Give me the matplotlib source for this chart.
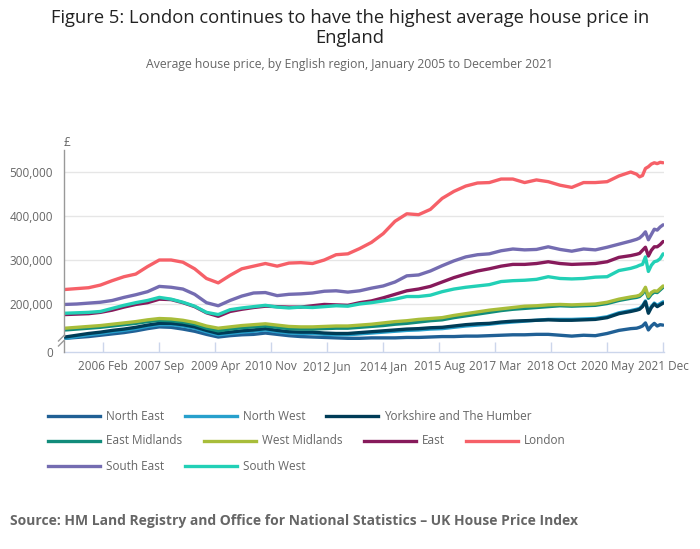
import calendar

import matplotlib
matplotlib.use('Agg')
import matplotlib.pyplot as plt
from matplotlib.lines import Line2D

plt.rcParams['font.family'] = ['Open Sans', 'DejaVu Sans']

# --- DATA (average price, £ thousands; month offset from Jan 2005) ---
months = list(range(0, 193, 4)) + list(range(194, 204))

north_east = [122, 124, 126, 129, 132, 135, 139, 144, 148, 147, 143, 138, 131, 125, 128, 130, 131,
              134, 131, 128, 126, 125, 124, 123, 122, 122, 123, 123, 123, 124, 124, 125, 126, 126,
              127, 127, 128, 129, 130, 130, 131, 131, 129, 127, 129, 128, 133, 140, 144,
              145, 147, 150, 157, 141, 150, 156, 150, 153, 152]
north_west = [122, 126, 130, 133, 137, 140, 144, 149, 153, 153, 150, 145, 137, 130, 133, 136, 138,
              141, 137, 134, 133, 133, 131, 130, 130, 132, 134, 136, 138, 140, 141, 143, 144, 147,
              150, 152, 154, 157, 159, 161, 163, 165, 165, 165, 166, 167, 171, 180, 185,
              188, 190, 196, 207, 182, 194, 202, 197, 201, 205]
yorkshire = [125, 129, 133, 136, 140, 143, 147, 152, 156, 156, 153, 148, 140, 133, 136, 139, 141,
             144, 140, 137, 136, 136, 134, 133, 133, 135, 137, 139, 141, 143, 144, 146, 147, 150,
             153, 155, 156, 159, 161, 162, 163, 164, 163, 163, 164, 165, 169, 178, 183,
             186, 188, 194, 205, 179, 192, 200, 194, 198, 202]
east_midlands = [141, 143, 145, 147, 150, 153, 156, 160, 163, 162, 159, 154, 145, 139, 143, 146, 148,
                 150, 147, 144, 143, 143, 144, 145, 145, 147, 149, 151, 154, 156, 159, 162, 164, 169,
                 173, 177, 181, 185, 188, 190, 192, 194, 196, 195, 196, 197, 201, 208, 213,
                 215, 217, 223, 233, 213, 222, 227, 226, 232, 238]
west_midlands = [145, 147, 149, 151, 154, 157, 160, 164, 167, 166, 163, 158, 150, 145, 148, 151, 153,
                 155, 152, 149, 148, 148, 149, 150, 150, 152, 154, 157, 160, 162, 165, 167, 169, 174,
                 178, 182, 186, 189, 192, 195, 196, 198, 199, 198, 199, 200, 204, 211, 216,
                 218, 220, 226, 238, 217, 226, 230, 229, 235, 241]
east = [176, 177, 178, 181, 186, 193, 199, 203, 211, 210, 203, 194, 180, 172, 183, 188, 192,
        195, 194, 193, 193, 196, 199, 198, 197, 203, 207, 214, 222, 230, 234, 240, 250, 260,
        268, 275, 280, 286, 290, 290, 292, 296, 292, 290, 291, 292, 296, 306, 310,
        313, 315, 322, 329, 309, 322, 330, 330, 335, 342]
london = [233, 235, 237, 243, 253, 262, 268, 285, 300, 300, 295, 280, 258, 248, 265, 280, 286,
          292, 286, 293, 294, 292, 300, 312, 314, 326, 340, 360, 388, 405, 403, 415, 440, 456,
          468, 475, 476, 484, 484, 476, 482, 478, 470, 465, 476, 476, 478, 491, 500,
          495, 489, 492, 508, 512, 518, 521, 519, 522, 521]
south_east = [199, 200, 202, 204, 208, 215, 221, 228, 240, 238, 234, 222, 203, 196, 208, 218, 225,
              226, 219, 222, 223, 225, 229, 230, 227, 230, 236, 241, 250, 264, 266, 275, 287, 298,
              307, 312, 314, 321, 325, 323, 324, 330, 324, 320, 325, 323, 329, 336, 343,
              347, 350, 356, 364, 346, 358, 370, 368, 375, 380]
south_west = [179, 180, 181, 183, 190, 197, 203, 208, 215, 211, 204, 195, 181, 176, 187, 191, 194,
              197, 193, 191, 193, 192, 194, 196, 195, 200, 203, 207, 211, 217, 217, 220, 228, 234,
              238, 241, 244, 251, 253, 254, 256, 262, 258, 257, 258, 261, 262, 276, 281,
              285, 288, 290, 307, 274, 288, 296, 298, 303, 314]

regions = ['North East', 'North West', 'Yorkshire and The Humber', 'East Midlands',
           'West Midlands', 'East', 'London', 'South East', 'South West']
series = [north_east, north_west, yorkshire, east_midlands, west_midlands, east,
          london, south_east, south_west]
colors = ['#206095', '#27a0cc', '#003c57', '#118c7b', '#a8bd3a', '#871a5b',
          '#f66068', '#746cb1', '#22d0b6']

y_ticks = [200000, 300000, 400000, 500000]
x_tick_months = list(range(13, 204, 19))

# --- LAYOUT ---
W, H = 700, 549
Y_BOTTOM, Y_TOP = 90900, 550000


def fx(px):
    return px / W


def fy(py):
    return 1 - py / H


fig = plt.figure(figsize=(W / 100, H / 100), dpi=100)
ax = fig.add_axes([fx(64), fy(352), 600 / W, 202 / H])

for name, vals, col in zip(regions, series, colors):
    ax.plot(months, [v * 1000 for v in vals], color=col, lw=2.4, solid_joinstyle='round',
            solid_capstyle='round', zorder=3)

for yt in y_ticks:
    ax.axhline(yt, color='#e6e6e6', lw=1, zorder=1)

ax.set_xlim(-0.35, 203.3)
ax.set_ylim(Y_BOTTOM, Y_TOP)

ax.set_yticks([Y_BOTTOM] + y_ticks)
ax.set_yticklabels(['0'] + [f'{v:,}' for v in y_ticks])
ax.tick_params(axis='y', length=0, pad=8, labelsize=8.5, labelcolor='#666666')

ax.set_xticks(x_tick_months)
ax.set_xticklabels([f'{2005 + m // 12} {calendar.month_abbr[m % 12 + 1]}' for m in x_tick_months])
ax.tick_params(axis='x', direction='in', length=7, width=1, color='#ccd6eb', pad=6,
               labelsize=8.5, labelcolor='#666666')

for side in ['top', 'right', 'left']:
    ax.spines[side].set_visible(False)
ax.spines['bottom'].set_color('#ccd6eb')
ax.spines['bottom'].set_linewidth(1)

# y axis with a break near the bottom
axis_kw = dict(transform=ax.transAxes, color='#999999', lw=1, clip_on=False, zorder=4)
ax.add_line(Line2D([0, 0], [0, 11.5 / 202], **axis_kw))
ax.add_line(Line2D([0, 0], [16 / 202, 1], **axis_kw))
ax.add_line(Line2D([-5.5 / 600, 0.5 / 600], [11 / 202, 17 / 202], **axis_kw))
ax.add_line(Line2D([-5.5 / 600, 0.5 / 600], [6 / 202, 12 / 202], **axis_kw))

fig.text(fx(67), fy(142), '£', ha='center', va='center', fontsize=8.5, color='#666666')

# --- TITLES ---
fig.text(0.5, fy(28), 'Figure 5: London continues to have the highest average house price in\nEngland',
         ha='center', va='center', fontsize=13.2, color='#222222', linespacing=1.1)
fig.text(0.5, fy(64), 'Average house price, by English region, January 2005 to December 2021',
         ha='center', va='center', fontsize=8.8, color='#666666')

# --- LEGEND ---
legend_pos = [(48, 416), (185, 416), (326, 416),
              (48, 441), (204, 441), (364, 441), (466, 441),
              (48, 466), (185, 466)]
for (x0, y0), name, col in zip(legend_pos, regions, colors):
    fig.add_artist(Line2D([fx(x0), fx(x0 + 52)], [fy(y0), fy(y0)], transform=fig.transFigure,
                          color=col, lw=2.4))
    fig.text(fx(x0 + 58), fy(y0), name, ha='left', va='center', fontsize=8.5, color='#666666')

fig.text(fx(10), fy(521),
         'Source: HM Land Registry and Office for National Statistics \u2013 UK House Price Index',
         ha='left', va='center', fontsize=10, fontweight='bold', color='#666666')

fig.savefig('out.png', dpi=100)
